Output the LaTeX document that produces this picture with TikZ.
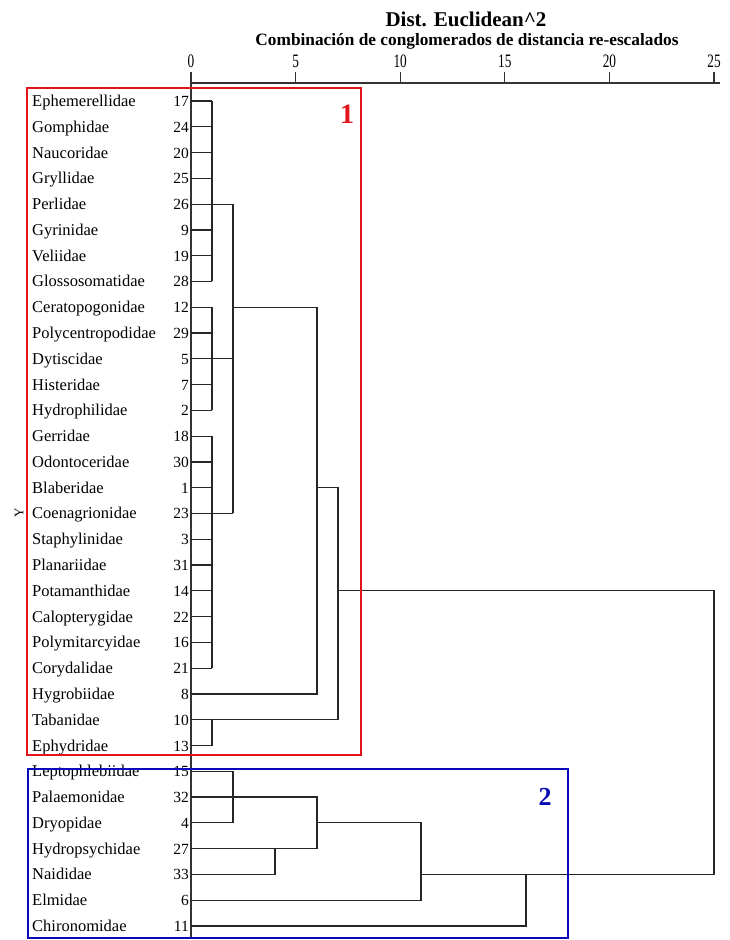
\documentclass[tikz,border=0pt]{standalone}
\usepackage{fontspec}
\setmainfont{Liberation Serif}
\begin{document}
\begin{tikzpicture}[x=1pt,y=-1pt,
  lbl/.style={font=\fontsize{16.5}{18}\selectfont, inner sep=0pt, anchor=base west},
  num/.style={font=\fontsize{15.5}{18}\selectfont, inner sep=0pt, anchor=base east},
  tick/.style={font=\fontsize{19}{20}\selectfont, inner sep=0pt, anchor=base, xscale=0.7},
  den/.style={draw=black!85, line width=1.2pt},
  axisline/.style={draw=black!80, line width=1.2pt},
  redbox/.style={draw={rgb,255:red,225;green,20;blue,30}, line width=2pt},
  bluebox/.style={draw={rgb,255:red,10;green,10;blue,185}, line width=2pt}]
\useasboundingbox (0,0) rectangle (729,940);
\fill[white] (0,0) rectangle (729,940);

% title
\node[font=\bfseries\fontsize{21}{24}\selectfont, inner sep=0pt, anchor=base] (title) at (466,26) {Dist. Euclidean\^{}2};
\node[font=\bfseries\fontsize{17.3}{18}\selectfont, inner sep=0pt, anchor=base] (subtitle) at (467,45) {Combinación de conglomerados de distancia re-escalados};

% axis
\coordinate (A0) at (191,83);
\coordinate (A25) at (720,83);
\coordinate (bot) at (191,937);
\draw[axisline] (A0) -- (A25);
\draw[axisline] (A0) -- (bot);
\foreach \k/\t in {0/0,1/5,2/10,3/15,4/20,5/25}{
  \coordinate (T\k) at ({191+104.6*\k},83);
  \coordinate (Tt\k) at ({191+104.6*\k},72);
  \draw[axisline] (T\k) -- (Tt\k);
  \node[tick] (tl\k) at ({191+104.6*\k},67) {\t};
}

% x reference columns (rescaled units)
\coordinate (X1) at (212,0);
\coordinate (X2) at (233,0);
\coordinate (X4) at (275,0);
\coordinate (X6) at (317,0);
\coordinate (X7) at (338,0);
\coordinate (X11) at (421,0);
\coordinate (X16) at (526,0);
\coordinate (X25) at (714,0);

% leaves
\foreach \nm/\nb [count=\i from 0] in {Ephemerellidae/17,Gomphidae/24,Naucoridae/20,Gryllidae/25,Perlidae/26,Gyrinidae/9,Veliidae/19,Glossosomatidae/28,Ceratopogonidae/12,Polycentropodidae/29,Dytiscidae/5,Histeridae/7,Hydrophilidae/2,Gerridae/18,Odontoceridae/30,Blaberidae/1,Coenagrionidae/23,Staphylinidae/3,Planariidae/31,Potamanthidae/14,Calopterygidae/22,Polymitarcyidae/16,Corydalidae/21,Hygrobiidae/8,Tabanidae/10,Ephydridae/13,Leptophlebiidae/15,Palaemonidae/32,Dryopidae/4,Hydropsychidae/27,Naididae/33,Elmidae/6,Chironomidae/11}{
  \node[lbl] (n\i) at (32,{101+25.78*\i+5.5}) {\nm};
  \node[num] (k\i) at (189,{101+25.78*\i+5.5}) {\nb};
  \coordinate (r\i) at (191,{101+25.78*\i});
}

% cluster 1
\foreach \i in {0,...,22,24,25}{ \draw[den] (r\i) -- (r\i -| X1); }
\draw[den] (r0 -| X1) -- (r7 -| X1);
\draw[den] (r8 -| X1) -- (r12 -| X1);
\draw[den] (r13 -| X1) -- (r22 -| X1);
\draw[den] (r24 -| X1) -- (r25 -| X1);
\foreach \i in {4,10,16}{ \draw[den] (r\i -| X1) -- (r\i -| X2); }
\draw[den] (r4 -| X2) -- (r16 -| X2);
\draw[den] (r8 -| X2) -- (r8 -| X6) -- (r23 -| X6) -- (r23);
\draw[den] (r15 -| X6) -- (r15 -| X7) -- (r24 -| X7) -- (r24 -| X1);
\draw[den] (r19 -| X7) -- (r19 -| X25) -- (r30 -| X25) -- (r30 -| X16);

% cluster 2
\draw[den] (r26) -- (r26 -| X2) -- (r28 -| X2) -- (r28);
\draw[den] (r27) -- (r27 -| X6) -- (r29 -| X6) -- (r29);
\draw[den] (r29 -| X4) -- (r30 -| X4) -- (r30);
\draw[den] (r28 -| X6) -- (r28 -| X11) -- (r31 -| X11) -- (r31);
\draw[den] (r30 -| X11) -- (r30 -| X16) -- (r32 -| X16) -- (r32);

% Y label
\node[font=\fontsize{13}{14}\selectfont, inner sep=0pt, rotate=90] (ylab) at (19,513) {Y};

% group boxes
\draw[redbox] (27,88) rectangle (361,755);
\draw[bluebox] (28,769) rectangle (568,938);
\node[font=\bfseries\fontsize{28}{30}\selectfont, inner sep=0pt, anchor=base, text={rgb,255:red,225;green,20;blue,30}] (g1) at (347,123) {1};
\node[font=\bfseries\fontsize{26}{28}\selectfont, inner sep=0pt, anchor=base, text={rgb,255:red,10;green,10;blue,185}] (g2) at (545,805) {2};
\end{tikzpicture}
\end{document}
